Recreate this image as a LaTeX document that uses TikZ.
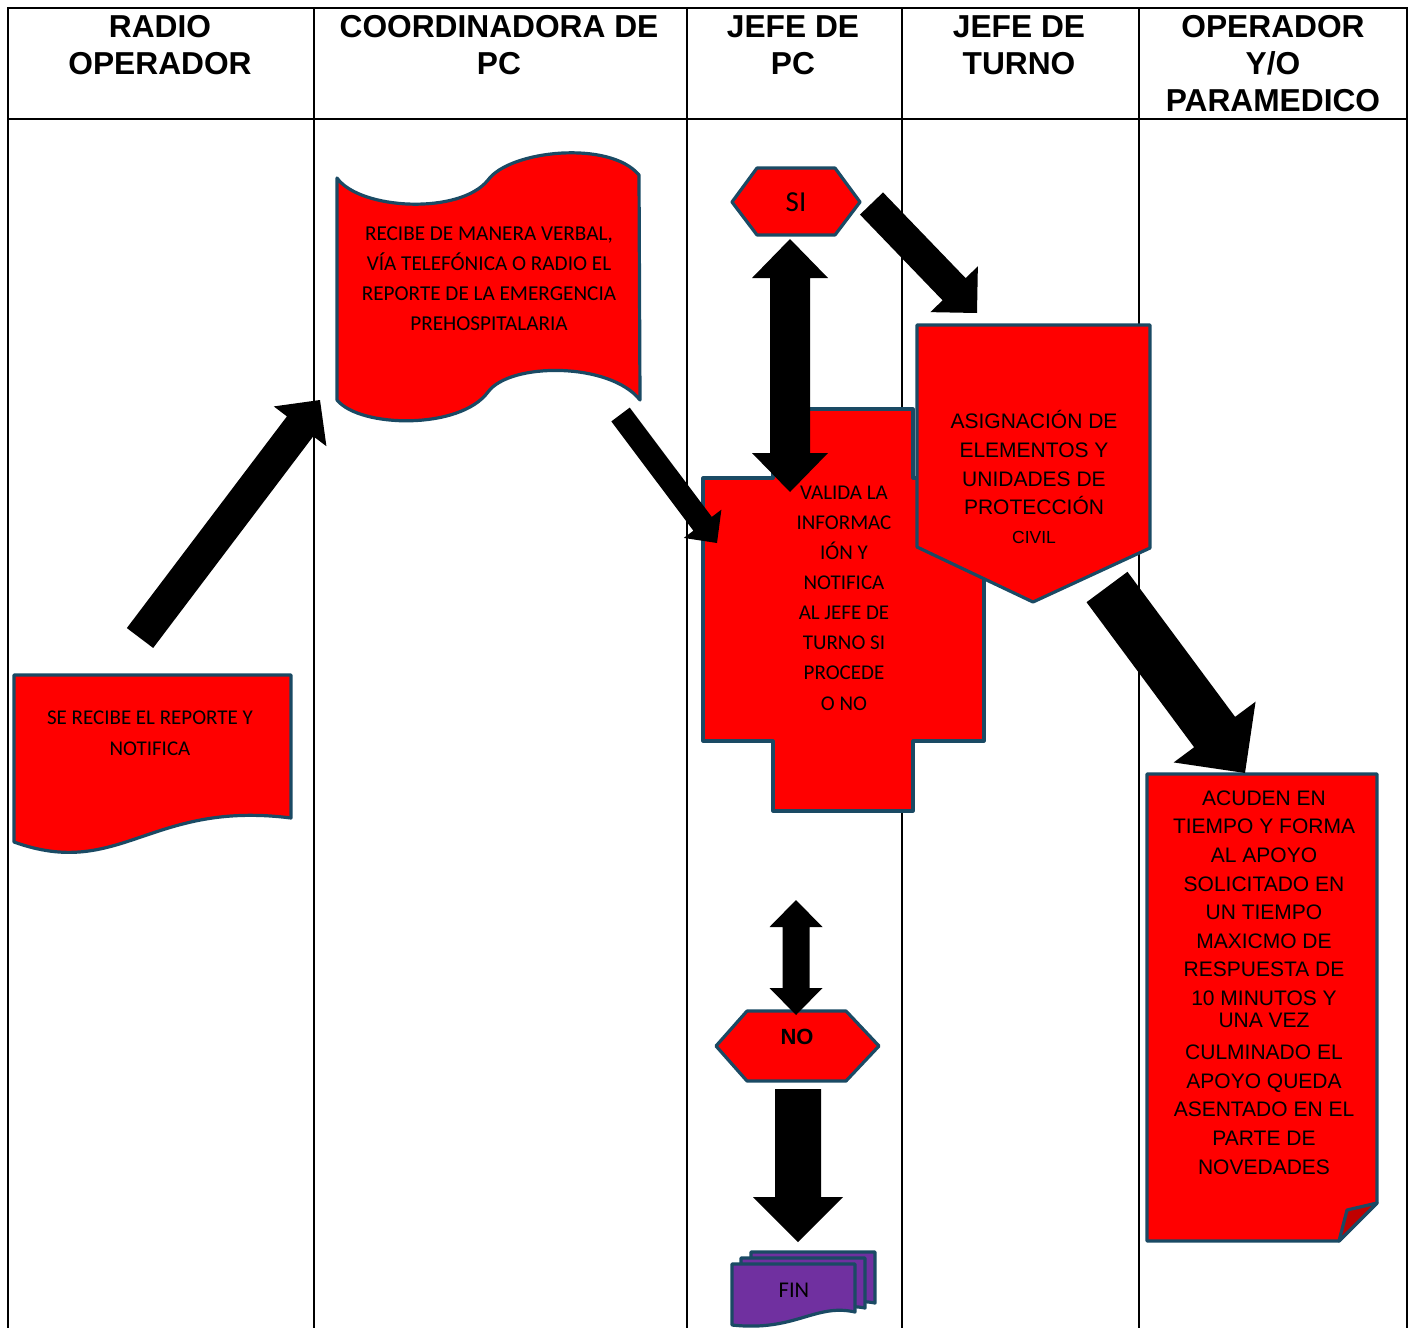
\documentclass[tikz,border=0pt]{standalone}
\usepackage{fontspec}
\setmainfont{Carlito}
\newfontfamily\arialf{Liberation Sans}
\usetikzlibrary{calc}
\definecolor{edgec}{HTML}{1A4A64}
\definecolor{purp}{HTML}{7030A0}
\definecolor{flapc}{HTML}{C00000}
% single block arrow: tail, tip, half shaft, half head, head length
\newcommand{\blockarr}[5]{%
  \coordinate (baH) at ($(#2)!#5!(#1)$);
  \fill[black] ($(#1)!#3!90:(#2)$) -- ($(baH)!#3!90:(#2)$) -- ($(baH)!#4!90:(#2)$)
    -- (#2) -- ($(baH)!#4!-90:(#2)$) -- ($(baH)!#3!-90:(#2)$) -- ($(#1)!#3!-90:(#2)$) -- cycle;
}
% double block arrow: end A, end B, half shaft, half head, head length
\newcommand{\dblarr}[5]{%
  \coordinate (daH1) at ($(#1)!#5!(#2)$);
  \coordinate (daH2) at ($(#2)!#5!(#1)$);
  \fill[black] (#1) -- ($(daH1)!#4!90:(#2)$) -- ($(daH1)!#3!90:(#2)$) -- ($(daH2)!#3!90:(#2)$)
    -- ($(daH2)!#4!90:(#2)$) -- (#2) -- ($(daH2)!#4!-90:(#2)$) -- ($(daH2)!#3!-90:(#2)$)
    -- ($(daH1)!#3!-90:(#2)$) -- ($(daH1)!#4!-90:(#2)$) -- cycle;
}
\begin{document}
\begin{tikzpicture}[x=1pt,y=-1pt,
  frameline/.style={line width=1.5pt, black},
  redshape/.style={fill=red, draw=edgec, line width=3.2pt, line join=round},
  purpshape/.style={fill=purp, draw=edgec, line width=3.2pt, line join=round},
  hdr/.style={font=\arialf\bfseries\fontsize{31.7}{37}\selectfont, align=center, inner sep=0pt},
  cal/.style={font=\fontsize{21.2}{30}\selectfont, align=center, inner sep=0pt},
  ari/.style={font=\arialf\fontsize{21}{28.6}\selectfont, align=center, inner sep=0pt}
]
\useasboundingbox (0,0) rectangle (1411,1328);
\fill[white] (0,0) rectangle (1411,1328);

% table frame
\draw[frameline] (8,1328) -- (8,8) -- (1407,8) -- (1407,1328);
\draw[frameline] (8,119) -- (1407,119);
\foreach \xx in {314,687,902,1139} \draw[frameline] (\xx,8) -- (\xx,1328);

% headers
\node[hdr] (h1) at (160,45.5) {RADIO\\OPERADOR};
\node[hdr] (h2) at (499,45.5) {COORDINADORA DE\\PC};
\node[hdr] (h3) at (793,45.5) {JEFE DE\\PC};
\node[hdr] (h4) at (1019,45.5) {JEFE DE\\TURNO};
\node[hdr] (h5) at (1273,64) {OPERADOR\\Y/O\\PARAMEDICO};

% left document
\path[redshape] (14,675) -- (291,675) -- (291,818)
  .. controls (150,800) and (120,880) .. (14,842) -- cycle;
\node[cal, font=\fontsize{21}{31}\selectfont] (t1) at (150,733.5) {SE RECIBE EL REPORTE Y\\NOTIFICA};

% tape
\path[redshape] (337,178) .. controls (360,210) and (460,215) .. (488,180)
  .. controls (510,150) and (610,140) .. (639,175) -- (640,400)
  .. controls (610,362) and (510,362) .. (488,392)
  .. controls (460,430) and (360,428) .. (337,400) -- cycle;
\node[cal] (t2) at (489,278.5) {RECIBE DE MANERA VERBAL,\\VÍA TELEFÓNICA O RADIO EL\\REPORTE DE LA EMERGENCIA\\PREHOSPITALARIA};

% cross
\path[redshape] (773,409) -- (913,409) -- (913,478) -- (984,478) -- (984,741) -- (913,741)
  -- (913,811) -- (773,811) -- (773,741) -- (703,741) -- (703,478) -- (773,478) -- cycle;
\node[cal, font=\fontsize{21}{30.1}\selectfont] (t3) at (844,598) {VALIDA LA\\INFORMAC\\IÓN Y\\NOTIFICA\\AL JEFE DE\\TURNO SI\\PROCEDE\\O NO};

% pentagon
\path[redshape] (917,325) -- (1150,325) -- (1150,548) -- (1033,602) -- (917,547) -- cycle;
\node[ari] (t4) at (1034,477) {ASIGNACIÓN DE\\ELEMENTOS Y\\UNIDADES DE\\PROTECCIÓN\\{\fontsize{17.5}{28.6}\selectfont CIVIL}};

% SI hexagon
\path[redshape] (732,202) -- (757,168) -- (835,168) -- (860,202) -- (835,235) -- (757,235) -- cycle;
\node[font=\fontsize{29}{30}\selectfont, inner sep=0pt] (si) at (796,202) {SI};

% NO hexagon
\path[redshape] (716,1046) -- (747,1011) -- (846,1011) -- (879,1046) -- (846,1081) -- (747,1081) -- cycle;
\node[font=\arialf\bfseries\fontsize{22}{24}\selectfont, inner sep=0pt] (no) at (797,1037) {NO};

% right document with folded corner
\path[redshape] (1147,774) -- (1377,774) -- (1377,1203) -- (1339,1241) -- (1147,1241) -- cycle;
\path[fill=flapc, draw=edgec, line width=3.2pt, line join=round] (1377,1203) -- (1347,1210) -- (1339,1241) -- cycle;
\node[ari] (t5) at (1264,982.5) {ACUDEN EN\\TIEMPO Y FORMA\\AL APOYO\\SOLICITADO EN\\UN TIEMPO\\MAXICMO DE\\RESPUESTA DE\\10 MINUTOS Y\\[-6.5pt]UNA VEZ\\[3.5pt]CULMINADO EL\\APOYO QUEDA\\ASENTADO EN EL\\PARTE DE\\NOVEDADES};

% FIN multi-document
\path[purpshape] (751,1252) -- (875,1252) -- (875,1303) .. controls (840,1296) and (815,1318) .. (751,1314) -- cycle;
\path[purpshape] (741,1258) -- (865,1258) -- (865,1308) .. controls (830,1301) and (805,1323) .. (741,1319) -- cycle;
\path[purpshape] (732,1264) -- (855,1264) -- (855,1312) .. controls (815,1303) and (795,1332) .. (732,1325) -- cycle;
\node[font=\fontsize{22.5}{24}\selectfont, inner sep=0pt] (fin) at (794,1290) {FIN};

% arrow end points
\coordinate (a1s) at (140,638);   \coordinate (a1e) at (320,400);
\coordinate (a2s) at (620.5,414.5); \coordinate (a2e) at (717,543);
\coordinate (a3s) at (790,239);   \coordinate (a3e) at (790,492);
\coordinate (a4s) at (871.5,203.5); \coordinate (a4e) at (977,313);
\coordinate (a5s) at (1107,587);  \coordinate (a5e) at (1245,773);
\coordinate (a6s) at (796,900);   \coordinate (a6e) at (796,1015);
\coordinate (a7s) at (798,1089);  \coordinate (a7e) at (798,1242);

% block arrows
\blockarr{a1s}{a1e}{16.5pt}{33pt}{33pt}
\blockarr{a2s}{a2e}{11.5pt}{23.5pt}{24pt}
\dblarr{a3s}{a3e}{20pt}{38pt}{39pt}
\blockarr{a4s}{a4e}{16pt}{33pt}{33pt}
\blockarr{a5s}{a5e}{25.5pt}{51pt}{51pt}
\dblarr{a6s}{a6e}{13.5pt}{26.5pt}{27pt}
\blockarr{a7s}{a7e}{23pt}{45pt}{45pt}
\end{tikzpicture}
\end{document}
